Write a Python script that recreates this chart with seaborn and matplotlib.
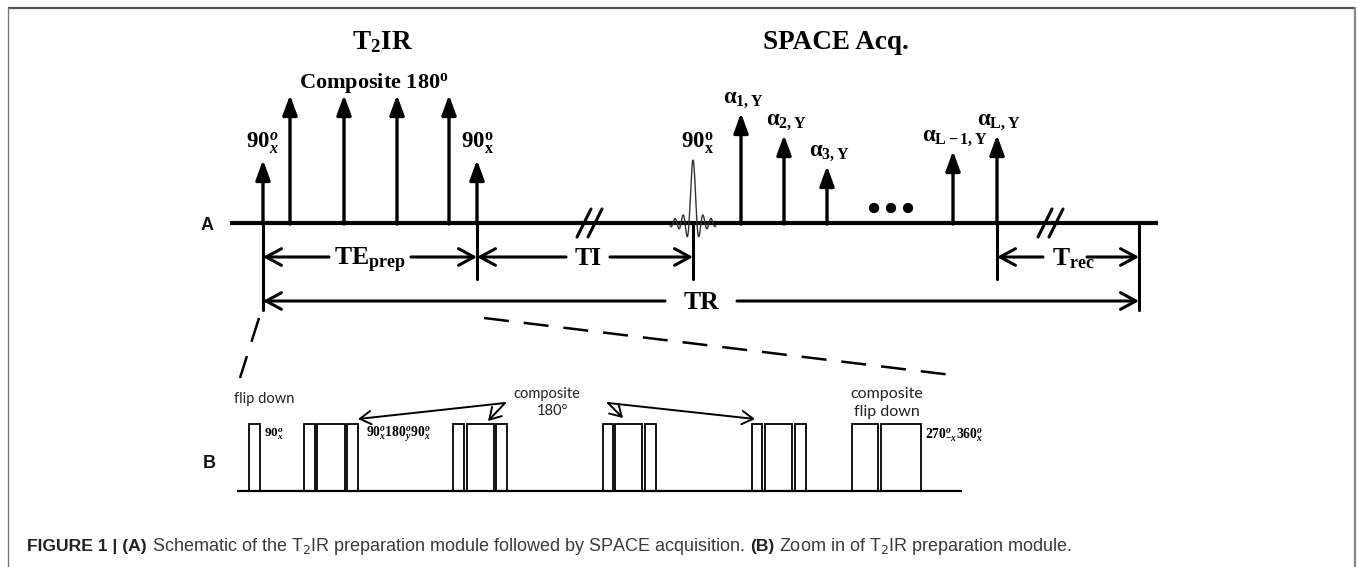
import numpy as np
import pandas as pd
import matplotlib
matplotlib.use("Agg")
import matplotlib.pyplot as plt
import seaborn as sns
from matplotlib.patches import Rectangle

sns.set_theme(style="white")
plt.rcParams["font.family"] = ["Liberation Serif", "DejaVu Serif"]
plt.rcParams["mathtext.fontset"] = "custom"
plt.rcParams["mathtext.rm"] = "Liberation Serif:bold"
plt.rcParams["mathtext.bf"] = "Liberation Serif:bold"
plt.rcParams["mathtext.it"] = "Liberation Serif:italic:bold"
plt.rcParams["mathtext.bfit"] = "Liberation Serif:italic:bold"
plt.rcParams["mathtext.sf"] = "Liberation Sans"

# ------------------------------------------------------------------ data
# Panel A : T2IR preparation pulses (timeline position, pulse height)
prep_t = [263, 290, 344, 397, 449, 477]
prep_h = [63, 128, 128, 128, 128, 63]
prep_labels = [r"$\mathbf{90}^{o}_{x}$", None, None, None, None, r"$\mathbf{90^{o}_{x}}$"]

# excitation (sinc) pulse
exc_t = 693
exc_h = 63

# SPACE refocusing pulses
alpha_t = [741, 784, 827, 953, 997]
alpha_h = [110, 88, 57, 72, 88]
alpha_labels = [r"α$_{\mathbf{1,Y}}$", r"α$_{\mathbf{2,Y}}$", r"α$_{\mathbf{3,Y}}$",
                r"α$_{\mathbf{L-1,Y}}$", r"α$_{\mathbf{L,Y}}$"]
dots_t = [874, 891, 908]

# timing intervals (start, end, label)
intervals = [(263, 477, r"TE$_{\mathbf{prep}}$"),
             (477, 693, "TI"),
             (997, 1139, r"T$_{\mathbf{rec}}$"),
             (263, 1139, "TR")]

# Panel B : zoomed preparation module, rectangular pulses (start, end)
b_pulses = [(249, 260),
            (304, 315), (317, 345), (347, 358),
            (453, 464), (467, 494), (496, 507),
            (603, 613), (615, 642), (645, 656),
            (752, 762), (765, 792), (795, 806),
            (852, 878), (881, 921)]

# ------------------------------------------------------------------ figure
fig = plt.figure(figsize=(13.57, 5.67), dpi=100)
ax = fig.add_axes([0, 0, 1, 1])
ax.axis("off")

BASE_A = 223
BASE_B = 491
K = "black"

# frame
ax.plot([8, 1355], [8, 8], color="#555555", lw=1.6, solid_capstyle="butt")
ax.plot([8, 8], [8, 567], color="#777777", lw=1.0)
ax.plot([1355, 1355], [8, 567], color="#888888", lw=1.6)

# ---------------- panel A
ax.plot([230, 1158], [BASE_A, BASE_A], color=K, lw=3.0, solid_capstyle="butt")
ax.text(207, BASE_A + 3, "A", family="Liberation Sans", weight="bold", fontsize=13,
        ha="center", va="center", color="#111111")

def pulse_arrow(x, h, lw=2.4):
    ax.annotate("", xy=(x, BASE_A - h), xytext=(x, BASE_A + 1),
                arrowprops=dict(arrowstyle="-|>,head_length=0.6,head_width=0.22",
                                lw=lw, color=K, mutation_scale=20,
                                shrinkA=0, shrinkB=0))

for x, h, lab in zip(prep_t, prep_h, prep_labels):
    pulse_arrow(x, h)
    if lab:
        ax.text(x + (0 if lab.startswith(r"$\mathbf{90^") else -1), BASE_A - h - 4, lab,
                fontsize=16.5, ha="center", va="bottom", color=K)

ax.text(374, 88, r"Composite 180$^{\mathbf{o}}$", fontsize=16, weight="bold",
        ha="center", va="baseline", color=K)
ax.text(382, 49, r"T$_{\mathbf{2}}$IR", fontsize=19.5, weight="bold",
        ha="center", va="baseline", color=K)
ax.text(836, 49, "SPACE Acq.", fontsize=19.5, weight="bold",
        ha="center", va="baseline", color=K)

# sinc excitation
tt = np.linspace(-5.7, 5.7, 600)
sinc_df = pd.DataFrame({"x": exc_t + 4.0 * tt, "y": BASE_A - exc_h * np.sinc(tt)})
sns.lineplot(data=sinc_df, x="x", y="y", ax=ax, color="#333333", lw=1.0,
             sort=False, estimator=None)
ax.text(exc_t + 4, BASE_A - exc_h - 4, r"$\mathbf{90^{o}_{x}}$", fontsize=16.5,
        ha="center", va="bottom", color=K)

for x, h, lab in zip(alpha_t, alpha_h, alpha_labels):
    pulse_arrow(x, h)
    ax.text(x + 2, BASE_A - h - 3, lab, fontsize=16.5, weight="bold",
            ha="center", va="bottom", color=K)

sns.scatterplot(x=dots_t, y=[208] * 3, ax=ax, s=55, color=K, edgecolor="none")

# break marks
for xb in (577, 1038):
    for dx in (0, 11):
        ax.plot([xb + dx, xb + dx + 14], [237, 209], color=K, lw=2.2)

# vertical timing markers
for x, y1 in [(263, 310), (477, 279), (693, 279), (997, 279), (1139, 310)]:
    ax.plot([x, x], [BASE_A, y1], color=K, lw=2.2)

gaps = {"TE": (329, 411), "TI": (566, 610), "Tr": (1043, 1087), "TR": (665, 737)}
ys = [257, 257, 257, 301]
for (x0, x1, lab), y, key in zip(intervals, ys, ["TE", "TI", "Tr", "TR"]):
    g0, g1 = gaps[key]
    for a, b in ((g0, x0), (g1, x1)):
        ax.annotate("", xy=(b, y), xytext=(a, y),
                    arrowprops=dict(arrowstyle="->,head_length=0.55,head_width=0.3",
                                    lw=2.2, color=K, mutation_scale=20,
                                    shrinkA=0, shrinkB=0))
    xc = (g0 + g1) / 2 + (8 if key == "Tr" else 0)
    ax.text(xc, y + 8, lab, fontsize=18.5, weight="bold", ha="center",
            va="baseline", color=K)

# dashed zoom connectors
ax.plot([259, 240], [318, 378], color=K, lw=1.8, linestyle=(0, (10, 6)))
ax.plot([484, 960], [318, 376], color=K, lw=1.8, linestyle=(0, (10, 6)))

# ---------------- panel B
ax.plot([237, 962], [BASE_B, BASE_B], color=K, lw=1.6, solid_capstyle="butt")
ax.text(209, 463, "B", family="Liberation Sans", weight="bold", fontsize=13,
        ha="center", va="center", color="#111111")
for x0, x1 in b_pulses:
    ax.add_patch(Rectangle((x0, 424), x1 - x0, BASE_B - 424, fill=False,
                           lw=1.3, ec=K))

sans = "Lato"
ax.text(264, 399, "flip down", family=sans, fontsize=10.5, ha="center",
        va="center", color="#222222")
ax.text(547, 394, "composite", family=sans, fontsize=10.5, ha="center",
        va="center", color="#222222")
ax.text(553, 411, "180°", family=sans, fontsize=10.5, ha="center",
        va="center", color="#222222")
ax.text(887, 394, "composite", family=sans, fontsize=11.5, ha="center",
        va="center", color="#222222")
ax.text(887, 412, "flip down", family=sans, fontsize=11.5, ha="center",
        va="center", color="#222222")

ax.text(264, 434, r"$\mathbf{90}^{o}_{x}$", fontsize=9.5, ha="left", va="center", color=K)
ax.text(366, 434, r"$\mathbf{90}^{o}_{x}\mathbf{180}^{o}_{y}\mathbf{90}^{o}_{x}$",
        fontsize=9.8, ha="left", va="center", color=K)
ax.text(925, 435, r"$\mathbf{270}^{o}_{-x}\mathbf{360}^{o}_{x}$",
        fontsize=9.8, ha="left", va="center", color=K)

for (sx, sy), (ex, ey) in [((505, 403), (358, 419)), ((505, 403), (488, 421)),
                           ((608, 403), (623, 418)), ((608, 403), (755, 419))]:
    ax.annotate("", xy=(ex, ey), xytext=(sx, sy),
                arrowprops=dict(arrowstyle="->,head_length=0.5,head_width=0.3",
                                lw=1.4, color=K, mutation_scale=16,
                                shrinkA=0, shrinkB=0))

# ---------------- caption
ax.set_xlim(0, 1357)
ax.set_ylim(567, 0)
renderer = fig.canvas.get_renderer()
cap_kw = dict(family="Liberation Sans", va="baseline", math_fontfamily="dejavusans")

def width(s, **kw):
    t = ax.text(0, 0, s, **kw)
    w = t.get_window_extent(renderer).width
    t.remove()
    return w

space = width("a a", fontsize=13, **cap_kw) - width("aa", fontsize=13, **cap_kw)
parts = [("FIGURE 1 | (A)", "bold", "#222222", 12.6),
         ("Schematic of the T$_2$IR preparation module followed by SPACE acquisition.", "normal", "#3a3a3a", 13.0),
         ("(B)", "bold", "#222222", 12.6),
         ("Zoom in of T$_2$IR preparation module.", "normal", "#3a3a3a", 13.0)]
cx = 27
for s, wgt, col, fs in parts:
    t = ax.text(cx, 551, s, weight=wgt, color=col, fontsize=fs, **cap_kw)
    cx += t.get_window_extent(renderer).width + space

fig.savefig("out.png", dpi=100)
